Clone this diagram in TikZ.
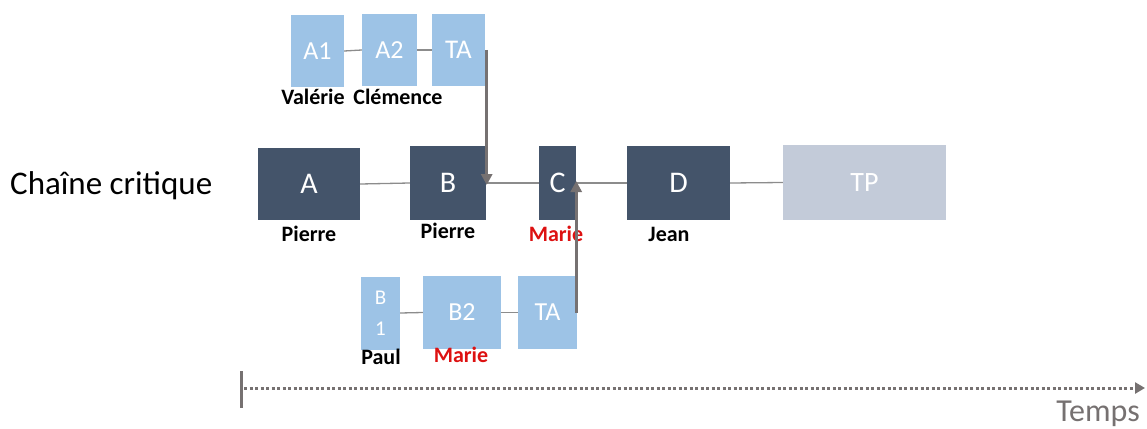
\documentclass[tikz,border=0pt]{standalone}
\usepackage{fontspec}
\setmainfont{Carlito}
\usetikzlibrary{arrows.meta}
\definecolor{navy}{HTML}{44546A}
\definecolor{lblue}{HTML}{9DC3E6}
\definecolor{tpcol}{HTML}{C3CBD9}
\definecolor{arrgray}{HTML}{767171}
\definecolor{linegray}{HTML}{8C8C8C}
\definecolor{mred}{HTML}{DD1111}
\tikzset{
  box/.style={inner sep=0pt, text=white, font=\fontsize{26}{30}\selectfont},
  darkbox/.style={box, fill=navy, font=\fontsize{30}{34}\selectfont},
  lightbox/.style={box, fill=lblue},
  tpbox/.style={box, fill=tpcol, font=\fontsize{28}{32}\selectfont},
  who/.style={inner sep=0pt, font=\fontsize{22}{26}\selectfont\bfseries},
  link/.style={draw=linegray, line width=1.3pt},
  feed/.style={draw=arrgray, line width=3pt, -{Triangle[length=11pt,width=11pt]}},
}
\begin{document}
\begin{tikzpicture}[x=1pt,y=-1pt]
\useasboundingbox (0,0) rectangle (1147,428);
% critical chain
\node[anchor=west, inner sep=0pt, font=\fontsize{33}{38}\selectfont] (cc) at (10,186) {Chaîne critique};
\node[darkbox, minimum width=102pt, minimum height=72pt] (a) at (309,184) {A};
\node[darkbox, minimum width=76pt, minimum height=74pt] (b) at (448,183) {B};
\node[darkbox, minimum width=37pt, minimum height=74pt] (c) at (557.5,183) {C};
\node[darkbox, minimum width=103pt, minimum height=74pt] (d) at (678.5,183) {D};
\node[tpbox, minimum width=163pt, minimum height=75pt] (tp) at (864.5,182.5) {TP};
\draw[link] (a.east) -- (b.west);
\draw[link] (b.east) -- (c.west);
\draw[link] (c.east) -- (d.west);
\draw[link] (d.east) -- (tp.west);
\node[who] (pa) at (309,234) {Pierre};
\node[who] (pb) at (448,231) {Pierre};
\node[who, text=mred] (mc) at (556,234) {Marie};
\node[who] (jd) at (669,234) {Jean};
% upper feeding chain
\node[lightbox, minimum width=53pt, minimum height=72pt] (a1) at (317.5,51) {A1};
\node[lightbox, minimum width=55pt, minimum height=72pt] (a2) at (389.5,50) {A2};
\node[lightbox, minimum width=53pt, minimum height=72pt, font=\fontsize{27}{31}\selectfont] (ta1) at (458.5,50) {TA};
\draw[link] (a1.east) -- (a2.west);
\draw[link] (a2.east) -- (ta1.west);
\node[who] (va) at (313,97) {Valérie};
\node[who] (cl) at (398,97) {Clémence};
\draw[feed] ([xshift=1.5pt]ta1.east) -- ([xshift=1.5pt,yshift=-2pt]ta1.east |- b.east);
% lower feeding chain
\node[lightbox, minimum width=39pt, minimum height=73pt, align=center, font=\fontsize{21}{31}\selectfont] (b1) at (380.5,313) {B\\1};
\node[lightbox, minimum width=78pt, minimum height=73pt] (b2) at (462,312.5) {B2};
\node[lightbox, minimum width=59pt, minimum height=73pt] (ta2) at (547.5,312.5) {TA};
\draw[link] (b1.east) -- (b2.west);
\draw[link] (b2.east) -- (ta2.west);
\node[who] (pl) at (381,357) {Paul};
\node[who, text=mred] (mb) at (461,355) {Marie};
\draw[feed] ([xshift=-1pt]ta2.east) -- ([xshift=-1pt,yshift=2pt]ta2.east |- c.east);
% time axis
\coordinate (t0) at (241,371);
\coordinate (t1) at (241,408);
\coordinate (ax0) at (244,388);
\coordinate (ax1) at (1145,388);
\draw[draw=arrgray, line width=3pt] (t0) -- (t1);
\draw[draw=arrgray, line width=3pt, dash pattern=on 3pt off 2.5pt, -{Triangle[length=10pt,width=11pt]}] (ax0) -- (ax1);
\node[anchor=east, inner sep=0pt, text=arrgray, font=\fontsize{32}{36}\selectfont] (tm) at (1140,414) {Temps};
\end{tikzpicture}
\end{document}
